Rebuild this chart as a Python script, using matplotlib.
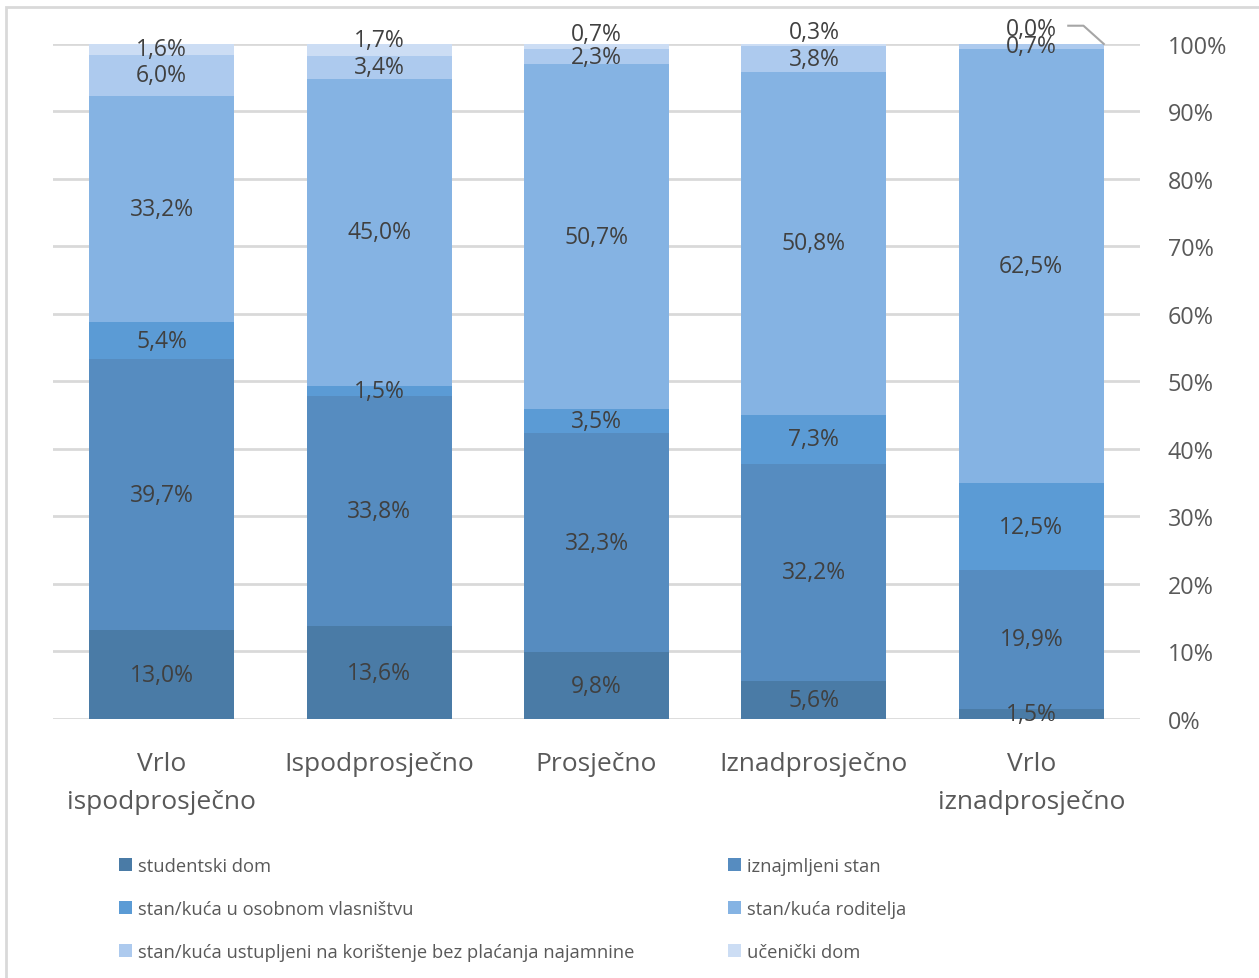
import numpy as np
import matplotlib.pyplot as plt
from matplotlib.patches import Rectangle

plt.rcParams['font.family'] = ['Open Sans', 'DejaVu Sans']

# Kategorije (prosjek ocjena)
kategorije = ['Vrlo\nispodprosječno', 'Ispodprosječno', 'Prosječno',
              'Iznadprosječno', 'Vrlo\niznadprosječno']

# Vrste smještaja i postoci (odozdo prema gore)
serije = ['studentski dom', 'iznajmljeni stan', 'stan/kuća u osobnom vlasništvu',
          'stan/kuća roditelja', 'stan/kuća ustupljeni na korištenje bez plaćanja najamnine',
          'učenički dom']
studentski_dom = [13.0, 13.6, 9.8, 5.6, 1.5]
iznajmljeni_stan = [39.7, 33.8, 32.3, 32.2, 19.9]
osobno_vlasnistvo = [5.4, 1.5, 3.5, 7.3, 12.5]
kuca_roditelja = [33.2, 45.0, 50.7, 50.8, 62.5]
ustupljeni = [6.0, 3.4, 2.3, 3.8, 0.7]
ucenicki_dom = [1.6, 1.7, 0.7, 0.3, 0.0]

boje = ['#4A7BA6', '#568CC0', '#5B9BD5', '#85B3E3', '#ADCAEE', '#CCDDF4']

vrijednosti = np.array([studentski_dom, iznajmljeni_stan, osobno_vlasnistvo,
                        kuca_roditelja, ustupljeni, ucenicki_dom])
udio = vrijednosti / vrijednosti.sum(axis=0) * 100  # 100% stacked

fig = plt.figure(figsize=(12.59, 9.79), dpi=100)
ax = fig.add_axes([53 / 1259, 0.2646, 1087 / 1259, 0.6895])

x = np.arange(len(kategorije))
sirina = 0.667
dno = np.zeros(len(kategorije))
stupci = []
for i, ime in enumerate(serije):
    b = ax.bar(x, udio[i], sirina, bottom=dno, color=boje[i], label=ime,
               edgecolor='none', zorder=2)
    stupci.append(b)
    for j in range(len(kategorije)):
        tekst = f'{vrijednosti[i, j]:.1f}%'.replace('.', ',')
        y = dno[j] + udio[i, j] / 2
        if i == len(serije) - 1 and j > 0:
            # Excel je pomaknuo oznake iznad stupca
            y = [None, 100.6, 101.4, 101.7, 102.2][j]
        ax.text(x[j], y, tekst, ha='center', va='center', fontsize=16.5,
                color='#404040', zorder=3)
    dno += udio[i]

# linija vodilica za 0,0%
ax.plot([4.17, 4.24, 4.3335], [102.7, 102.7, 100], color='#A6A6A6',
        lw=1.5, zorder=3, clip_on=False)

ax.set_xlim(-0.5, 4.5)
ax.set_ylim(0, 100)
ax.set_yticks(np.arange(0, 101, 10))
ax.set_yticklabels([f'{v}%' for v in range(0, 101, 10)])
ax.yaxis.tick_right()
ax.tick_params(axis='y', length=0, pad=20, labelsize=16.8, labelcolor='#595959')
ax.set_xticks(x)
ax.set_xticklabels(kategorije, fontsize=19, color='#595959', linespacing=1.68)
ax.tick_params(axis='x', length=0, pad=23)
ax.grid(axis='y', color='#D9D9D9', lw=2, zorder=0)
ax.set_axisbelow(True)
for s in ax.spines.values():
    s.set_visible(False)

# legenda: redovi kao u originalu
redoslijed = [0, 2, 4, 1, 3, 5]
fig.legend([stupci[k] for k in redoslijed], [serije[k] for k in redoslijed],
           ncol=2, loc='upper left', bbox_to_anchor=(0.0885, 0.131),
           frameon=False, fontsize=13.2, labelcolor='#595959',
           handlelength=0.7, handleheight=0.7, handletextpad=0.35,
           columnspacing=5.1, labelspacing=1.36, borderaxespad=0)

# okvir grafikona
fig.patches.append(Rectangle((6 / 1259, -0.05), 1.1, 0.05 + 1 - 8 / 979,
                             transform=fig.transFigure, fill=False,
                             edgecolor='#D9D9D9', lw=2))

fig.savefig('out.png', dpi=100)
